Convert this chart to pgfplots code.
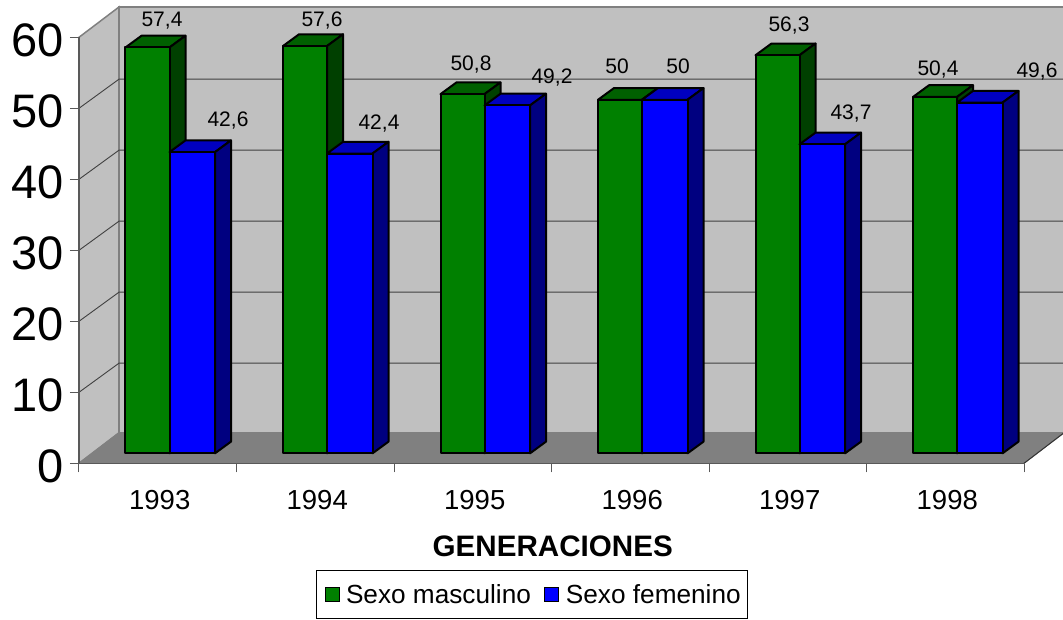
\documentclass[border=0pt]{standalone}
\usepackage{pgfplots}
\pgfplotsset{compat=1.18}
\usepackage{fontspec}
\setmainfont{Liberation Sans}
\definecolor{gfront}{HTML}{008000}
\definecolor{gtop}{HTML}{006000}
\definecolor{gside}{HTML}{004000}
\definecolor{bfront}{HTML}{0000FF}
\definecolor{btop}{HTML}{0000C0}
\definecolor{bside}{HTML}{000080}
\definecolor{wallc}{HTML}{C0C0C0}
\definecolor{floorc}{HTML}{808080}
\newcommand\tdbar[6]{%
  \pgfmathsetmacro\yt{1.4+0.996*#3}%
  \pgfmathsetmacro\yb{1.4}%
  \pgfmathsetmacro\ytb{\yt+1.65}%
  \pgfmathsetmacro\ybb{\yb+1.65}%
  \pgfmathsetmacro\xla{#1+16}%
  \pgfmathsetmacro\xra{#2+16}%
  \edef\temp{%
    \noexpand\addplot[forget plot,fill=#5,draw=black,line width=2pt,line join=round] coordinates {(#1,\yt) (#2,\yt) (\xra,\ytb) (\xla,\ytb)} --cycle;
    \noexpand\addplot[forget plot,fill=#6,draw=black,line width=2pt,line join=round] coordinates {(#2,\yb) (\xra,\ybb) (\xra,\ytb) (#2,\yt)} --cycle;
    \noexpand\addplot[forget plot,fill=#4,draw=black,line width=2pt,line join=round] coordinates {(#1,\yb) (#2,\yb) (#2,\yt) (#1,\yt)} --cycle;
  }\temp}
\newcommand\lbl[3]{\node[font=\fontsize{21}{21}\selectfont,text=black,inner sep=0pt] at (axis cs:#1,{(463.3-#2)/7.1}) {#3};}
\begin{document}
\begin{tikzpicture}[x=1pt,y=1pt]
\useasboundingbox (0,0) rectangle (1063,620);
\begin{axis}[
  at={(79pt,156.7pt)},anchor=south west,
  scale only axis,width=945pt,height=426pt,
  xmin=79,xmax=1024,ymin=0,ymax=60,
  clip=false,axis on top,
  axis x line=bottom,axis y line=left,
  axis line style={-,draw=black!65,line width=1.3pt},
  tick align=outside,
  major tick length=9pt,
  tick style={draw=black!65,line width=1pt},
  ytick={0,10,20,30,40,50,60},
  xtick={79,236.5,394,551.5,709,866.5,1024},
  xticklabels={},
  extra x ticks={157.75,315.25,472.75,630.25,787.75,945.25},
  extra x tick labels={1993,1994,1995,1996,1997,1998},
  extra x tick style={major tick length=0pt,tick style={draw=none}},
  /pgf/number format/assume math mode=true,
  xticklabel style={font=\fontsize{27.5}{27.5}\selectfont,yshift=-23pt,xshift=2pt},
  yticklabel style={font=\fontsize{47}{47}\selectfont,xshift=-3pt,yshift=-3pt},
  legend columns=2,
  legend style={at={(axis cs:315.5,-21.9)},anchor=south west,draw=black,line width=1pt,
    font=\fontsize{26.2}{26.2}\selectfont,
    /tikz/every even column/.append style={column sep=6pt},
    inner xsep=3pt,inner ysep=11.5pt},
]
% walls and floor
\addplot[forget plot,fill=wallc,draw=floorc,line width=1.5pt] coordinates {(119,4.3) (1064,4.3) (1064,64.27) (119,64.27)} --cycle;
\addplot[forget plot,fill=wallc,draw=floorc,line width=1.5pt] coordinates {(79,0) (119,4.3) (119,64.27) (79,60)} --cycle;
\addplot[forget plot,fill=floorc,draw=floorc,line width=1pt] coordinates {(79,0) (1024,0) (1064,4.3) (119,4.3)} --cycle;
\addplot[forget plot,draw=black!80,line width=1pt] coordinates {(1024,0) (1064,4.3)};
% grid
\pgfplotsinvokeforeach{10,20,30,40,50}{
  \addplot[forget plot,draw=black!75,line width=0.9pt] coordinates {(79,#1) (119,#1+4.1) (1064,#1+4.1)};
}
% bars
\tdbar{125.5}{169.5}{57.4}{gfront}{gtop}{gside}
\tdbar{169.5}{215}{42.6}{bfront}{btop}{bside}
\tdbar{283}{327}{57.6}{gfront}{gtop}{gside}
\tdbar{327}{372.5}{42.4}{bfront}{btop}{bside}
\tdbar{440.5}{484.5}{50.8}{gfront}{gtop}{gside}
\tdbar{484.5}{530}{49.2}{bfront}{btop}{bside}
\tdbar{598}{642}{50}{gfront}{gtop}{gside}
\tdbar{642}{687.5}{50}{bfront}{btop}{bside}
\tdbar{755.5}{799.5}{56.3}{gfront}{gtop}{gside}
\tdbar{799.5}{845}{43.7}{bfront}{btop}{bside}
\tdbar{913}{957}{50.4}{gfront}{gtop}{gside}
\tdbar{957}{1002.5}{49.6}{bfront}{btop}{bside}
% value labels
\lbl{162}{21}{57,4}
\lbl{228}{121}{42,6}
\lbl{322}{21}{57,6}
\lbl{379}{124}{42,4}
\lbl{471}{65}{50,8}
\lbl{552}{78}{49,2}
\lbl{617}{66}{50}
\lbl{678}{66}{50}
\lbl{789}{26}{56,3}
\lbl{851}{114}{43,7}
\lbl{938}{70}{50,4}
\lbl{1037}{72}{49,6}
\node[font=\fontsize{29.6}{29.6}\selectfont\bfseries,inner sep=0pt] at (axis cs:552.7,{(463.3-546.7)/7.1}) {GENERACIONES};
\addlegendimage{legend image code/.code={\path[draw=none,fill=none] (0pt,0pt) rectangle (25pt,0pt);\draw[fill=gfront,draw=black,line width=1pt] (6pt,-7pt) rectangle (20pt,7pt);}}
\addlegendentry{Sexo masculino}
\addlegendimage{legend image code/.code={\path[draw=none,fill=none] (0pt,0pt) rectangle (25pt,0pt);\draw[fill=bfront,draw=black,line width=1pt] (6pt,-7pt) rectangle (20pt,7pt);}}
\addlegendentry{Sexo femenino\hspace*{2pt}}
\end{axis}
\end{tikzpicture}
\end{document}
